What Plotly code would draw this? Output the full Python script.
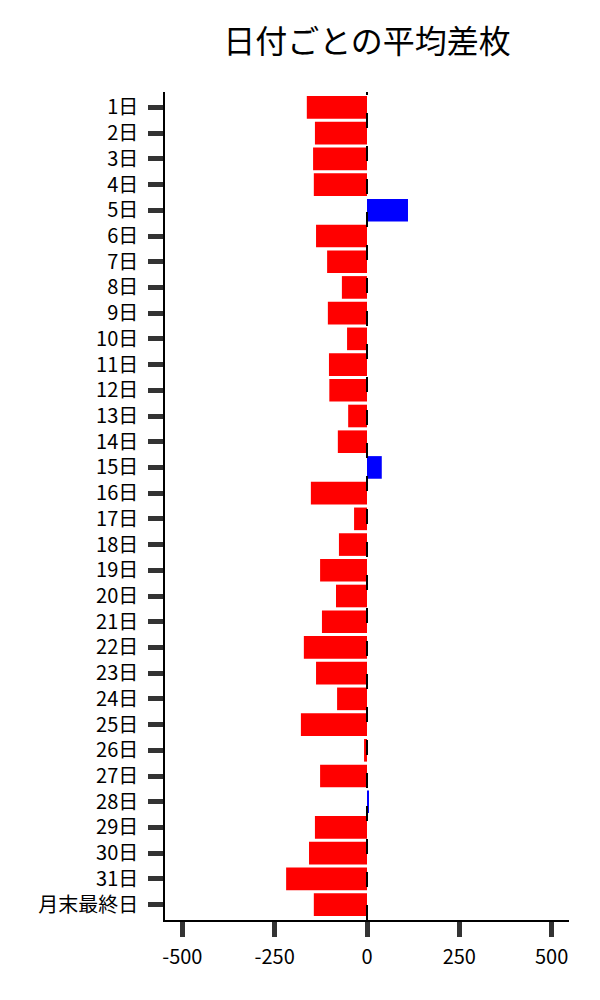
import plotly.graph_objects as go

# 日付ラベルと平均差枚
days = [f"{i}日" for i in range(1, 32)] + ["月末最終日"]
avg_diff = [-163, -141, -146, -144, 111, -138, -108, -68, -106, -54,
            -103, -102, -51, -79, 40, -152, -35, -76, -127, -84,
            -122, -171, -138, -81, -179, -8, -127, 3, -141, -157,
            -219, -144]
x_ticks = [-500, -250, 0, 250, 500]

colors = ['#0000FF' if v > 0 else '#FF0000' for v in avg_diff]

fig = go.Figure(go.Bar(x=avg_diff, y=days, orientation='h',
                       marker=dict(color=colors, line=dict(width=0))))

# 0の位置に破線
fig.add_shape(type='line', x0=0, x1=0, xref='x', y0=0, y1=1, yref='paper',
              line=dict(color='black', width=2, dash='15px,18px'))

font_jp = "Noto Sans CJK JP"
fig.update_layout(
    title=dict(text='日付ごとの平均差枚', x=0.5, xref='paper', xanchor='center',
               y=1 - 34 / 1000, yref='container', yanchor='middle',
               font=dict(family=font_jp, size=32, color='black')),
    font=dict(family=font_jp, size=20, color='black'),
    width=600, height=1000,
    margin=dict(l=157, r=39, t=84, b=88, autoexpand=False),
    plot_bgcolor='white', paper_bgcolor='white',
    bargap=0.12, showlegend=False,
)
fig.update_xaxes(range=[-547, 547], tickvals=x_ticks, ticktext=[str(v) for v in x_ticks],
                 showgrid=False, zeroline=False, showline=True, linecolor='black', linewidth=1.5,
                 ticks='outside', ticklen=15, tickwidth=5, tickcolor='#333333',
                 ticklabelstandoff=3, automargin=False,
                 tickfont=dict(family=font_jp, size=20, color='black'))
fig.update_yaxes(range=[len(days) - 0.4, -0.6], showgrid=False, zeroline=False,
                 showline=True, linecolor='black', linewidth=1.5,
                 ticks='outside', ticklen=15, tickwidth=5, tickcolor='#333333',
                 ticklabelstandoff=6, automargin=False,
                 tickfont=dict(family=font_jp, size=20, color='black'))

fig.write_html("out.html")
